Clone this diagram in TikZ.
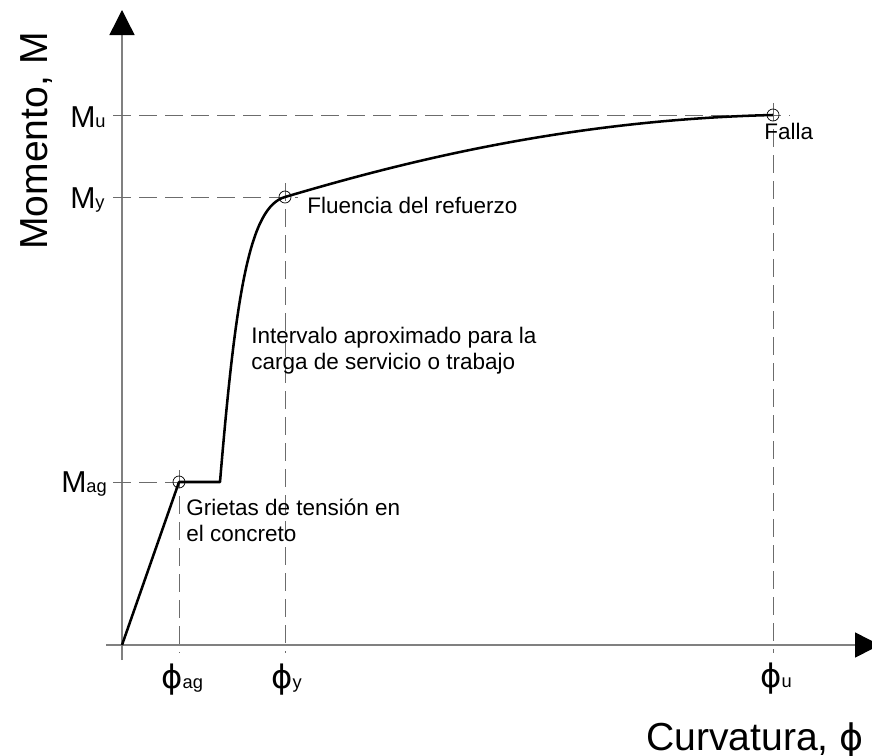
\documentclass[tikz,border=0pt]{standalone}
\usepackage{fontspec}
\setmainfont{Liberation Sans}
\newfontfamily\phifont{DejaVu Sans}
\usetikzlibrary{arrows.meta,positioning,calc}

\newcommand{\fisym}{{\phifont\fontsize{23}{23}\selectfont ϕ}}
\newcommand{\subtxt}[1]{{\fontsize{13}{13}\selectfont #1}}

\tikzset{
  axisline/.style={draw=gray, line width=1pt, -{Triangle[length=0.625cm,width=0.625cm,color=black]}},
  guide/.style={draw=gray!85!black, line width=0.7pt, dash pattern=on 12.8pt off 5.7pt},
  curveline/.style={line width=1.8pt, line join=round},
  ptcircle/.style={circle, draw, line width=0.5pt, minimum size=0.3cm, inner sep=0pt},
  biglabel/.style={inner sep=0pt, font=\fontsize{27.8}{30}\selectfont},
  mlabel/.style={inner sep=0pt, anchor=base west, font=\fontsize{21.5}{22}\selectfont},
  note/.style={inner sep=0pt, align=left, font=\fontsize{16}{18.5}\selectfont}
}

\begin{document}
\begin{tikzpicture}[x=0.025cm, y=-0.025cm]
  \useasboundingbox (0,0) rectangle (872,755);

  % Points of the curve
  \coordinate (O) at (122,645);
  \coordinate (ag) at (179,482);
  \coordinate (k) at (220,482);
  \coordinate (y) at (285,197);
  \coordinate (u) at (773,115);

  % Axes
  \coordinate (ybot) at (122,660);
  \coordinate (ytop) at (122,10);
  \coordinate (xleft) at (106,645);
  \coordinate (xright) at (880,645);
  \draw[axisline] (ybot) -- (ytop);
  \draw[axisline] (xleft) -- (xright);

  % Guide lines
  \draw[guide] ($(ag -| O)+(-9,0)$) -- (ag);
  \draw[guide] ($(ag)+(0,-12)$) -- ($(ag |- O)+(0,8)$);
  \draw[guide] ($(y -| O)+(-9,0)$) -- ($(y)+(13,0)$);
  \draw[guide] ($(y)+(0,-14)$) -- ($(y |- O)+(0,8)$);
  \draw[guide] ($(u -| O)+(-9,0)$) -- ($(u)+(17,0)$);
  \draw[guide] ($(u)+(0,-12)$) -- ($(u |- O)+(0,8)$);

  % Moment-curvature curve
  \draw[curveline] (O) -- (ag) -- (k) .. controls (236,290) and (250,207) .. (y)
    .. controls (390,166) and (560,120) .. (u);
  \node[ptcircle] (cag) at (ag) {};
  \node[ptcircle] (cy) at (y) {};
  \node[ptcircle] (cu) at (u) {};

  % Axis titles
  \node[biglabel, rotate=90, anchor=base] (ytitle) at (47,141) {Momento, M};
  \node[biglabel, anchor=base west] (xtitle) at (646,750) {Curvatura, {\phifont\fontsize{26}{26}\selectfont ϕ}};

  % Moment values
  \node[mlabel] (mu) at (70,128) {M\subtxt{u}};
  \node[mlabel] (my) at (70,208) {M\subtxt{y}};
  \node[mlabel] (mag) at (61,492) {M\subtxt{ag}};

  % Curvature values
  \node[inner sep=0pt, anchor=base west] (fag) at (161,688) {\fisym\subtxt{ag}};
  \node[inner sep=0pt, anchor=base west] (fy) at (271,688) {\fisym\subtxt{y}};
  \node[inner sep=0pt, anchor=base west] (fu) at (760,687) {\fisym\subtxt{u}};

  % Notes
  \node[note, anchor=base west] (falla) at (764,140) {Falla};
  \node[note, anchor=base west] (fluencia) at (307,213) {Fluencia del refuerzo};
  \node[note, anchor=north west] (intervalo) at (251,327) {Intervalo aproximado para la\\carga de servicio o trabajo};
  \node[note, anchor=north west] (grietas) at (186,499) {Grietas de tensión en\\el concreto};
\end{tikzpicture}
\end{document}
